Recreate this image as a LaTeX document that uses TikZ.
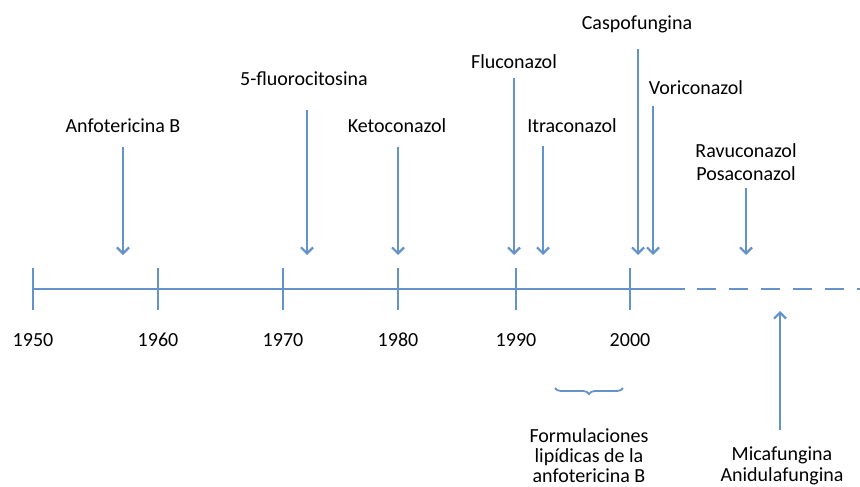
\documentclass[tikz,border=0pt]{standalone}
\usepackage{fontspec}
\setmainfont{Carlito}
\usetikzlibrary{arrows.meta,decorations.pathreplacing}
\definecolor{lineblue}{RGB}{100,147,203}
\tikzset{
  axis/.style={draw=lineblue, line width=2.6pt},
  marker/.style={draw=lineblue, line width=2.6pt, -{Straight Barb[length=6pt,width=12pt,line width=2.2pt]}},
  drug/.style={font=\fontsize{20}{21}\selectfont, align=center, inner sep=0pt, anchor=base},
}
\begin{document}
\begin{tikzpicture}[x=1pt,y=-1pt]
  \useasboundingbox (0,0) rectangle (860,487);
  % time axis
  \coordinate (a0) at (33,289);
  \coordinate (a1) at (685,289);
  \coordinate (a2) at (860,289);
  \draw[axis] (a0) -- (a1);
  \draw[axis, dash pattern=on 19pt off 13pt] ([xshift=12pt]a1) -- (a2);
  \foreach \yr/\x in {1950/33,1960/158,1970/283,1980/398,1990/516,2000/630}{
    \coordinate (t\yr) at (\x,289);
    \draw[axis] ([yshift=21pt]t\yr) -- ([yshift=-21pt]t\yr);
    \node[drug] (y\yr) at (\x,346) {\yr};
  }
  % drugs (multi-line nodes sit on their last line)
  \node[drug] (anf) at (123,132) {Anfotericina B};
  \node[drug] (fcit) at (304,85) {5-fluorocitosina};
  \node[drug] (keto) at (397,132) {Ketoconazol};
  \node[drug] (fluc) at (514,69) {Fluconazol};
  \node[drug] (itra) at (572,132) {Itraconazol};
  \node[drug] (casp) at (637,30) {Caspofungina};
  \node[drug] (vori) at (696,95) {Voriconazol};
  \node[drug, font=\fontsize{20}{23}\selectfont] (ravu) at (746,180) {Ravuconazol\\Posaconazol};
  \node[drug] (mica) at (782,481) {Micafungina\\Anidulafungina};
  \node[drug, font=\fontsize{20}{20}\selectfont] (form) at (589,482) {Formulaciones\\lipídicas de la\\anfotericina B};
  % arrows
  \foreach \n/\x/\top in {anf/123/147,fcit/307/110,keto/398/147,fluc/514/78,itra/543/146,casp/638/49,vori/653/106,ravu/746/188}{
    \coordinate (\n-s) at (\x,\top);
    \coordinate (\n-e) at (\x,255);
    \draw[marker] (\n-s) -- (\n-e);
  }
  \coordinate (mica-s) at (780,430);
  \coordinate (mica-e) at (780,311);
  \draw[marker] (mica-s) -- (mica-e);
  % brace
  \coordinate (b0) at (555,388);
  \coordinate (b1) at (623,388);
  \draw[draw=lineblue, line width=1.8pt, decorate, decoration={brace, mirror, amplitude=6pt}] (b0) -- (b1);
\end{tikzpicture}
\end{document}
